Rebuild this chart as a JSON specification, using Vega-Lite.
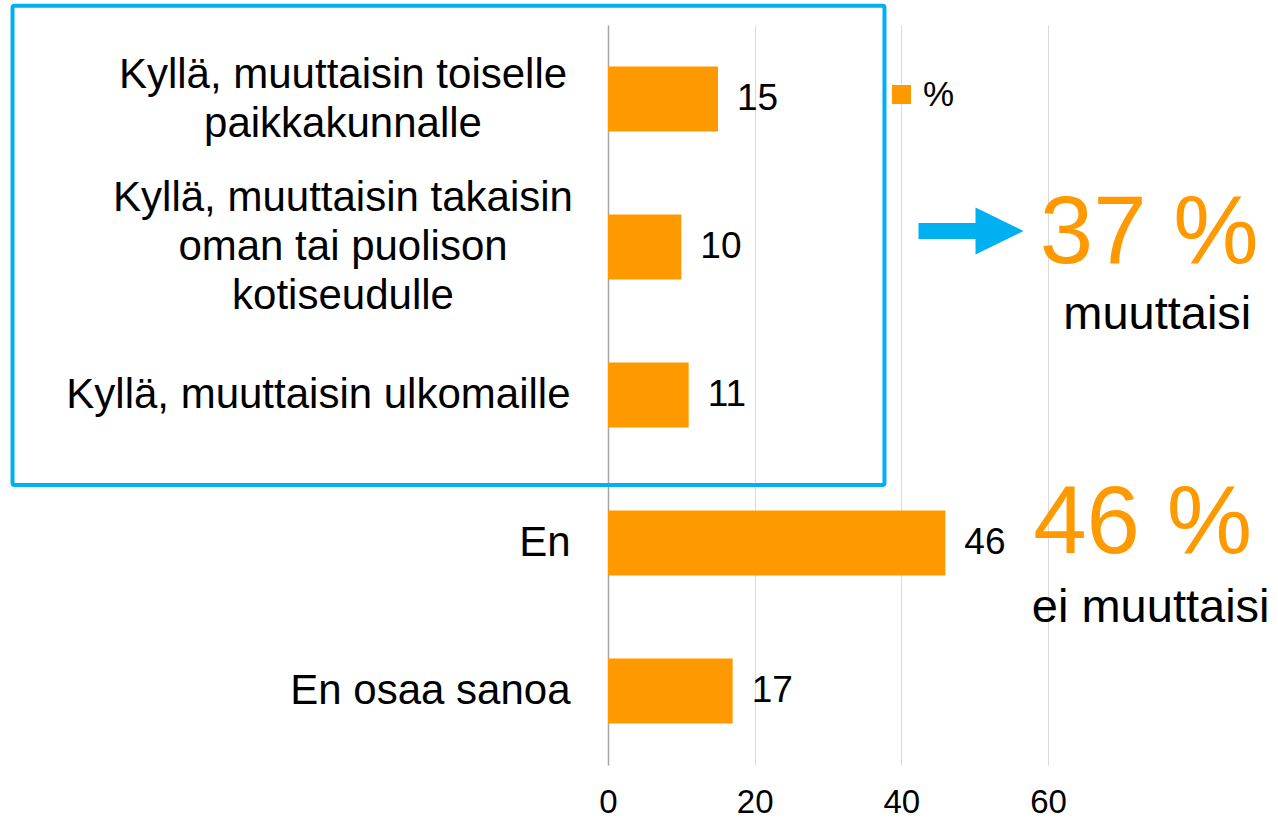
{
  "$schema": "https://vega.github.io/schema/vega-lite/v6.json",
  "autosize": {"type": "none"},
  "padding": {"left": 608, "top": 25, "right": 230, "bottom": 54},
  "width": 440,
  "height": 740,
  "background": "white",
  "config": {
    "font": "Liberation Sans",
    "view": {"stroke": null},
    "text": {"font": "Liberation Sans"}
  },
  "data": {
    "values": [
      {"answer": "Kyllä, muuttaisin toiselle\npaikkakunnalle", "value": 15, "series": "%"},
      {"answer": "Kyllä, muuttaisin takaisin\noman tai puolison\nkotiseudulle", "value": 10, "series": "%"},
      {"answer": "Kyllä, muuttaisin ulkomaille", "value": 11, "series": "%"},
      {"answer": "En", "value": 46, "series": "%"},
      {"answer": "En osaa sanoa", "value": 17, "series": "%"}
    ]
  },
  "resolve": {"scale": {"y": "independent"}},
  "layer": [
    {
      "mark": {"type": "bar"},
      "encoding": {
        "y": {
          "field": "answer", "type": "nominal", "sort": null,
          "scale": {"paddingInner": 0.56, "paddingOuter": 0.28},
          "axis": {
            "title": null, "ticks": false, "domain": true, "domainColor": "#A6A6A6", "domainWidth": 1.5,
            "labelFontSize": 42, "labelColor": "#000000", "labelLimit": 0,
            "labelLineHeight": 49, "labelExpr": "split(datum.label, '\\n')",
            "labelOffset": {"expr": "-(length(split(datum.value, '\\n')) - 1) * 24.5"},
            "labelAlign": {"expr": "length(split(datum.value, '\\n')) > 1 ? 'center' : 'right'"},
            "labelPadding": {"expr": "length(split(datum.value, '\\n')) > 1 ? 38 + length(split(datum.value, '\\n')[0]) * 8.75 : 38"}
          }
        },
        "x": {
          "field": "value", "type": "quantitative",
          "scale": {"domain": [0, 60], "nice": false},
          "axis": {
            "title": null, "values": [0, 20, 40, 60], "grid": true, "gridColor": "#D9D9D9", "gridWidth": 1,
            "domain": false, "ticks": false, "labelFontSize": 33, "labelColor": "#000000", "labelPadding": 21,
            "labelFlush": false
          }
        },
        "color": {
          "field": "series", "type": "nominal",
          "scale": {"range": ["#FF9900"]},
          "legend": {
            "title": null, "orient": "none", "legendX": 276, "legendY": 52, "padding": 0,
            "symbolType": "square", "symbolSize": 361, "labelFontSize": 35, "labelColor": "#000000",
            "labelOffset": 4, "symbolStrokeWidth": 0
          }
        }
      }
    },
    {
      "mark": {"type": "text", "align": "left", "baseline": "middle", "dx": 19, "fontSize": 37, "color": "#000000"},
      "encoding": {
        "y": {"field": "answer", "type": "nominal", "sort": null, "scale": {"paddingInner": 0.56, "paddingOuter": 0.28}, "axis": null},
        "x": {"field": "value", "type": "quantitative", "scale": {"domain": [0, 60], "nice": false}},
        "text": {"field": "value", "type": "quantitative"}
      }
    },
    {
      "data": {"values": [{"x1": -81.2, "x2": 37.7, "y1": 0.37, "y2": 3.608}]},
      "mark": {"type": "rect", "fill": null, "fillOpacity": 0, "stroke": "#00B0F0", "strokeWidth": 4, "cornerRadius": 2},
      "encoding": {
        "x": {"field": "x1", "type": "quantitative", "scale": {"domain": [0, 60], "nice": false}},
        "x2": {"field": "x2"},
        "y": {"field": "y1", "type": "quantitative", "scale": {"domain": [0.5, 5.5], "reverse": true, "nice": false, "zero": false}, "axis": null},
        "y2": {"field": "y2"}
      }
    },
    {
      "data": {"values": [{"x": 49.5, "y": 1.892}]},
      "mark": {
        "type": "point", "filled": true, "opacity": 1, "color": "#00B0F0", "size": 11025,
        "shape": "M-1,-0.152 L0.086,-0.152 L0.086,-0.448 L1,0 L0.086,0.448 L0.086,0.152 L-1,0.152 Z"
      },
      "encoding": {
        "x": {"field": "x", "type": "quantitative", "scale": {"domain": [0, 60], "nice": false}},
        "y": {"field": "y", "type": "quantitative", "scale": {"domain": [0.5, 5.5], "reverse": true, "nice": false, "zero": false}, "axis": null}
      }
    },
    {
      "data": {"values": [{"x": 73.8, "y": 2.108, "label": "37 %"}, {"x": 72.9, "y": 4.068, "label": "46 %"}]},
      "mark": {"type": "text", "align": "center", "baseline": "alphabetic", "fontSize": 96, "color": "#FF9900"},
      "encoding": {
        "x": {"field": "x", "type": "quantitative", "scale": {"domain": [0, 60], "nice": false}},
        "y": {"field": "y", "type": "quantitative", "scale": {"domain": [0.5, 5.5], "reverse": true, "nice": false, "zero": false}, "axis": null},
        "text": {"field": "label"}
      }
    },
    {
      "data": {"values": [{"x": 74.9, "y": 2.554, "label": "muuttaisi"}, {"x": 74.0, "y": 4.534, "label": "ei muuttaisi"}]},
      "mark": {"type": "text", "align": "center", "baseline": "alphabetic", "fontSize": 47, "color": "#000000"},
      "encoding": {
        "x": {"field": "x", "type": "quantitative", "scale": {"domain": [0, 60], "nice": false}},
        "y": {"field": "y", "type": "quantitative", "scale": {"domain": [0.5, 5.5], "reverse": true, "nice": false, "zero": false}, "axis": null},
        "text": {"field": "label"}
      }
    }
  ]
}
